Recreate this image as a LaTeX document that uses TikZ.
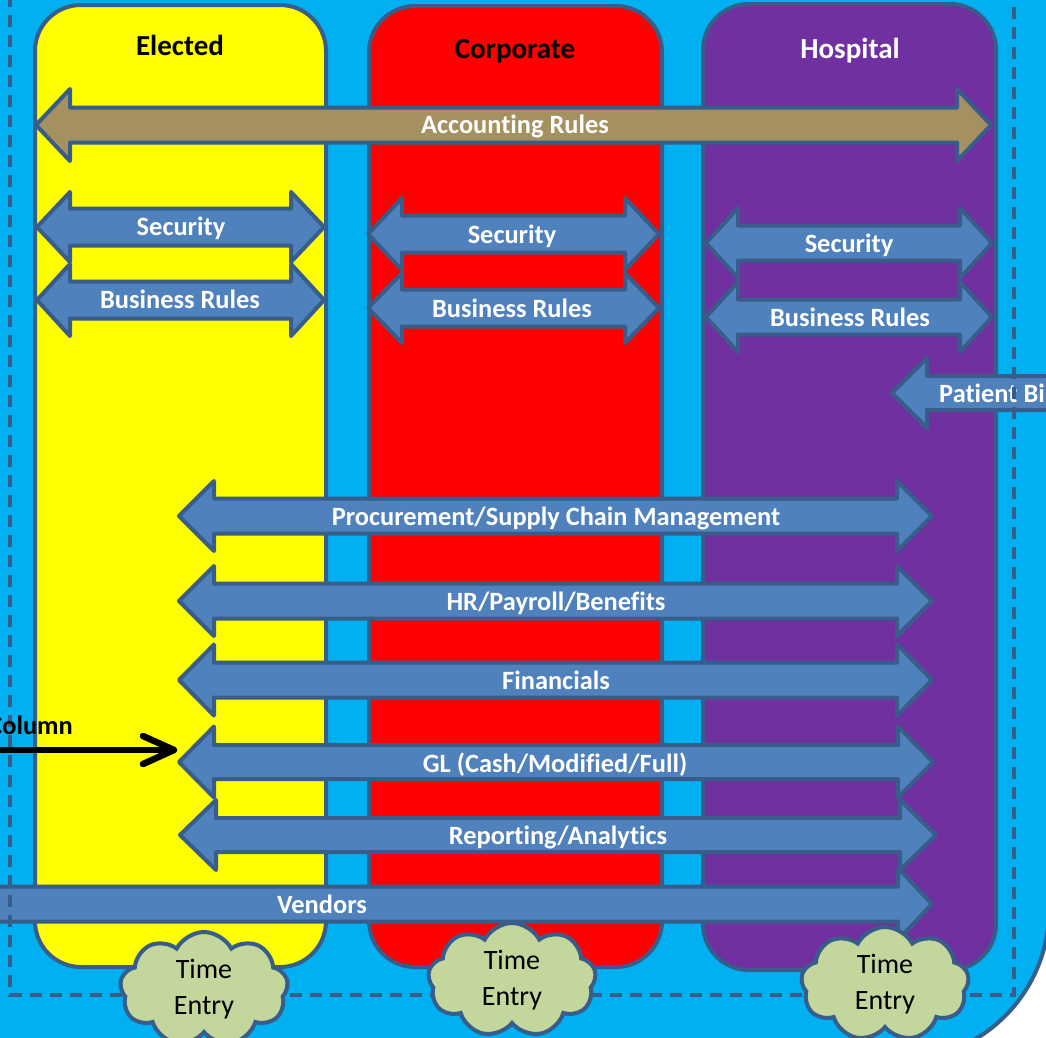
\documentclass[tikz,border=0pt]{standalone}
\usepackage{fontspec}
\setmainfont{Carlito}[RawFeature={-liga;-clig;-dlig;-calt}]
\usetikzlibrary{shapes.symbols}
\definecolor{bgcyan}{HTML}{00B0F0}
\definecolor{edgeblue}{HTML}{385D8A}
\definecolor{elyellow}{HTML}{FFFF00}
\definecolor{corpred}{HTML}{FF0000}
\definecolor{hosppurple}{HTML}{7030A0}
\definecolor{arrowblue}{HTML}{4F81BD}
\definecolor{acctan}{HTML}{A5915F}
\definecolor{cloudgreen}{HTML}{C3D69B}
% #1 left tip x, #2 right tip x, #3 centre y, #4 shaft half, #5 head half, #6 head length, #7 style
\newcommand{\dblarrow}[7]{%
  \draw[#7] ({#1},{#3}) -- ({#1+#6},{#3-#5}) -- ({#1+#6},{#3-#4}) -- ({#2-#6},{#3-#4})
    -- ({#2-#6},{#3-#5}) -- ({#2},{#3}) -- ({#2-#6},{#3+#5}) -- ({#2-#6},{#3+#4})
    -- ({#1+#6},{#3+#4}) -- ({#1+#6},{#3+#5}) -- cycle;}
\tikzset{
  colbox/.style={draw=edgeblue, line width=4pt, rounded corners=46pt},
  arrowshape/.style={draw=edgeblue, fill=arrowblue, line width=4pt, line join=round},
  accshape/.style={draw=edgeblue, fill=acctan, line width=4pt, line join=round},
  lbl/.style={font=\bfseries\fontsize{26.4}{30}\selectfont, text=white, inner sep=0pt, text height=17pt, text depth=0pt},
  hdr/.style={font=\bfseries\fontsize{29}{32}\selectfont, inner sep=0pt, text height=18.5pt, text depth=0pt},
  cloudbox/.style={shape=cloud, cloud puffs=9, cloud puff arc=125, cloud ignores aspect,
    draw=edgeblue, fill=cloudgreen, line width=4pt, minimum width=168pt, minimum height=114pt,
    align=center, inner sep=0pt, font=\fontsize{28}{36}\selectfont, text=black},
  dashframe/.style={draw=edgeblue, line width=3.5pt, dash pattern=on 12pt off 8pt}
}
\begin{document}
\begin{tikzpicture}[x=1pt,y=-1pt]
\useasboundingbox (0,0) rectangle (1046,1037);
\clip (0,0) rectangle (1046,1037);
\fill[white] (0,0) rectangle (1046,1037);
% background
\filldraw[fill=bgcyan, draw=edgeblue, line width=4pt]
  (-20,-20) -- (1049,-20) -- (1049,910) .. controls (1049,992.8) and (981.8,1060) .. (899,1060) -- (-20,1060) -- cycle;
% columns
\draw[colbox, fill=elyellow] (35,5) rectangle (326,967);
\draw[colbox, fill=corpred] (369,6) rectangle (662,967);
\draw[colbox, fill=hosppurple] (703,4) rectangle (996,970);
\node[hdr, text=black] (hElected) at (180,46) {Elected};
\node[hdr, text=black] (hCorporate) at (515,49) {Corporate};
\node[hdr, text=white] (hHospital) at (850,49) {Hospital};
% accounting rules
\dblarrow{36}{991}{125}{17.5}{36}{34}{accshape}
\node[lbl] (lAcc) at (515,125) {Accounting Rules};
% security / business rules
\dblarrow{37}{324}{227}{18.5}{35}{33}{arrowshape}
\node[lbl] (lSecE) at (181,227) {Security};
\dblarrow{37}{324}{300}{18.5}{36}{33}{arrowshape}
\node[lbl] (lBusE) at (180,300) {Business Rules};
\dblarrow{368}{659}{234}{18.5}{36}{34}{arrowshape}
\node[lbl] (lSecC) at (512,235) {Security};
\dblarrow{368}{659}{308}{18.5}{35}{34}{arrowshape}
\node[lbl] (lBusC) at (512,309) {Business Rules};
\dblarrow{706}{992}{243}{17.5}{35}{32}{arrowshape}
\node[lbl] (lSecH) at (849,244) {Security};
\dblarrow{706}{992}{317}{17.5}{35}{32}{arrowshape}
\node[lbl] (lBusH) at (850,318) {Business Rules};
% patient billing (left single arrow)
\draw[arrowshape] (892,393) -- (927,358) -- (927,376) -- (1070,376) -- (1070,410) -- (927,410) -- (927,428) -- cycle;
\node[lbl, anchor=west] (lPat) at (939,394) {Patient Bi};
% shared arrows
\dblarrow{179}{932}{516}{17.5}{35}{35}{arrowshape}
\node[lbl] (lProc) at (556,517) {Procurement/Supply Chain Management};
\dblarrow{179}{932}{601}{17.5}{35}{35}{arrowshape}
\node[lbl] (lHR) at (556,602) {HR/Payroll/Benefits};
\dblarrow{179}{932}{680}{17.5}{35.5}{35}{arrowshape}
\node[lbl] (lFin) at (556,681) {Financials};
\dblarrow{179}{933}{762}{17}{35.5}{35}{arrowshape}
\node[lbl] (lGL) at (555,764) {GL (Cash/Modified/Full)};
\dblarrow{180}{936}{835}{17}{35}{36}{arrowshape}
\node[lbl] (lRep) at (558,836) {Reporting/Analytics};
% vendors (right single arrow)
\draw[arrowshape] (-20,886.5) -- (898,886.5) -- (898,868) -- (932,904) -- (898,940) -- (898,921.5) -- (-20,921.5) -- cycle;
\node[lbl] (lVen) at (322,905) {Vendors};
% dashed frame
\draw[dashframe] (10,-5) -- (10,995) -- (1014,995) -- (1014,-5);
% column pointer
\node[hdr, font=\bfseries\fontsize{26.4}{30}\selectfont, text=black, anchor=east] (lCol) at (73,725) {Column};
\coordinate (colA) at (-10,750);
\coordinate (colB) at (174,750);
\draw[black, line width=6.5pt, line cap=round, line join=round] (colA) -- (colB);
\draw[black, line width=6.5pt, line cap=round, line join=round]
  ([shift={(-31,-14)}]colB) -- (colB) -- ([shift={(-31,14)}]colB);
% clouds
\node[cloudbox] (cElected) at (204,989) {Time\\Entry};
\node[cloudbox] (cCorporate) at (512,980) {Time\\Entry};
\node[cloudbox] (cHospital) at (885,984) {Time\\Entry};
\end{tikzpicture}
\end{document}
